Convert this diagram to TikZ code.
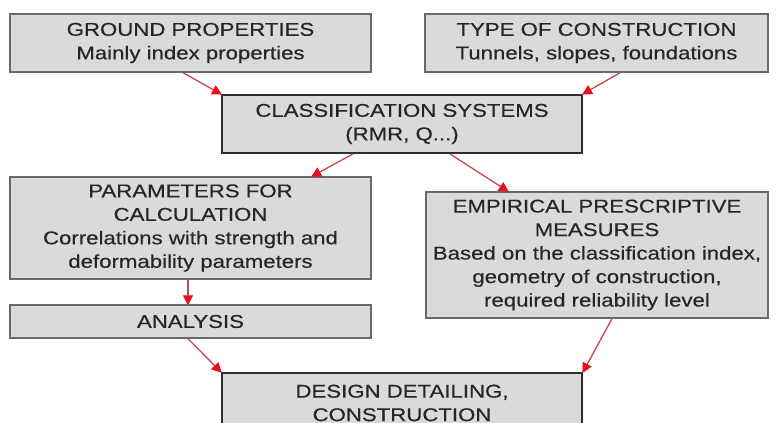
\documentclass[tikz,border=0pt]{standalone}
\usepackage{fontspec}
\setmainfont{Liberation Sans}[FakeStretch=1.2,FakeBold=0.4]
\usetikzlibrary{arrows.meta,calc}
\definecolor{boxfill}{HTML}{DADADA}
\definecolor{boxline}{HTML}{6A6A6A}
\definecolor{keyline}{HTML}{2E2E2E}
\definecolor{txt}{HTML}{262626}
\definecolor{flowline}{HTML}{C8484C}
\definecolor{flowtip}{HTML}{E8101E}
\tikzset{
  x=1pt, y=-1pt,
  stage/.style={draw=boxline, line width=1.4pt, fill=boxfill, text=txt,
    rectangle, inner sep=0pt, align=center,
    font=\fontsize{18.5}{23.5}\selectfont},
  keystage/.style={stage, draw=keyline, line width=1.8pt},
  flow/.style={draw=flowline, line width=1.3pt,
    -{Triangle[length=10pt,width=10pt,color=flowtip,fill=flowtip]}, shorten >=-1pt}
}
\begin{document}
\begin{tikzpicture}
\useasboundingbox[fill=white] (0,0) rectangle (777,423);

% upper row
\node[stage, minimum width=361pt, minimum height=58pt] (ground) at (190.5,43)
  {GROUND PROPERTIES\\Mainly index properties};
\node[stage, minimum width=343pt, minimum height=58pt] (ctype) at (596.5,43)
  {TYPE OF CONSTRUCTION\\Tunnels, slopes, foundations};

% classification
\node[keystage, minimum width=360pt, minimum height=58pt] (classif) at (402,124)
  {CLASSIFICATION SYSTEMS\\(RMR, Q...)};

% left branch
\node[stage, minimum width=361pt, minimum height=102pt] (params) at (190.5,228)
  {PARAMETERS FOR\\CALCULATION\\Correlations with strength and\\deformability parameters};
\node[stage, minimum width=361pt, minimum height=33pt] (analysis) at (190.5,321.5)
  {ANALYSIS};

% right branch
\node[stage, minimum width=342pt, minimum height=126pt] (empir) at (597,255)
  {EMPIRICAL PRESCRIPTIVE\\MEASURES\\Based on the classification index,\\geometry of construction,\\required reliability level};

% final stage, running past the lower edge
\node[keystage, minimum width=360pt, minimum height=60pt] (design) at (402,403)
  {DESIGN DETAILING,\\CONSTRUCTION};

% connectors
\draw[flow] ($(ground.south)+(-7.5,0)$) -- (classif.north west);
\draw[flow] ($(ctype.south)+(23.5,0)$) -- (classif.north east);
\draw[flow] ($(classif.south)+(-49,0)$) -- ($(params.north)+(121.5,0)$);
\draw[flow] ($(classif.south)+(48,0)$) -- ($(empir.north)+(-89,0)$);
\draw[flow] ($(params.south)+(-2.5,0)$) -- ($(analysis.north)+(-2.5,0)$);
\draw[flow] ($(analysis.south)+(-2.5,0)$) -- (design.north west);
\draw[flow] ($(empir.south)+(15,0)$) -- (design.north east);
\end{tikzpicture}
\end{document}
